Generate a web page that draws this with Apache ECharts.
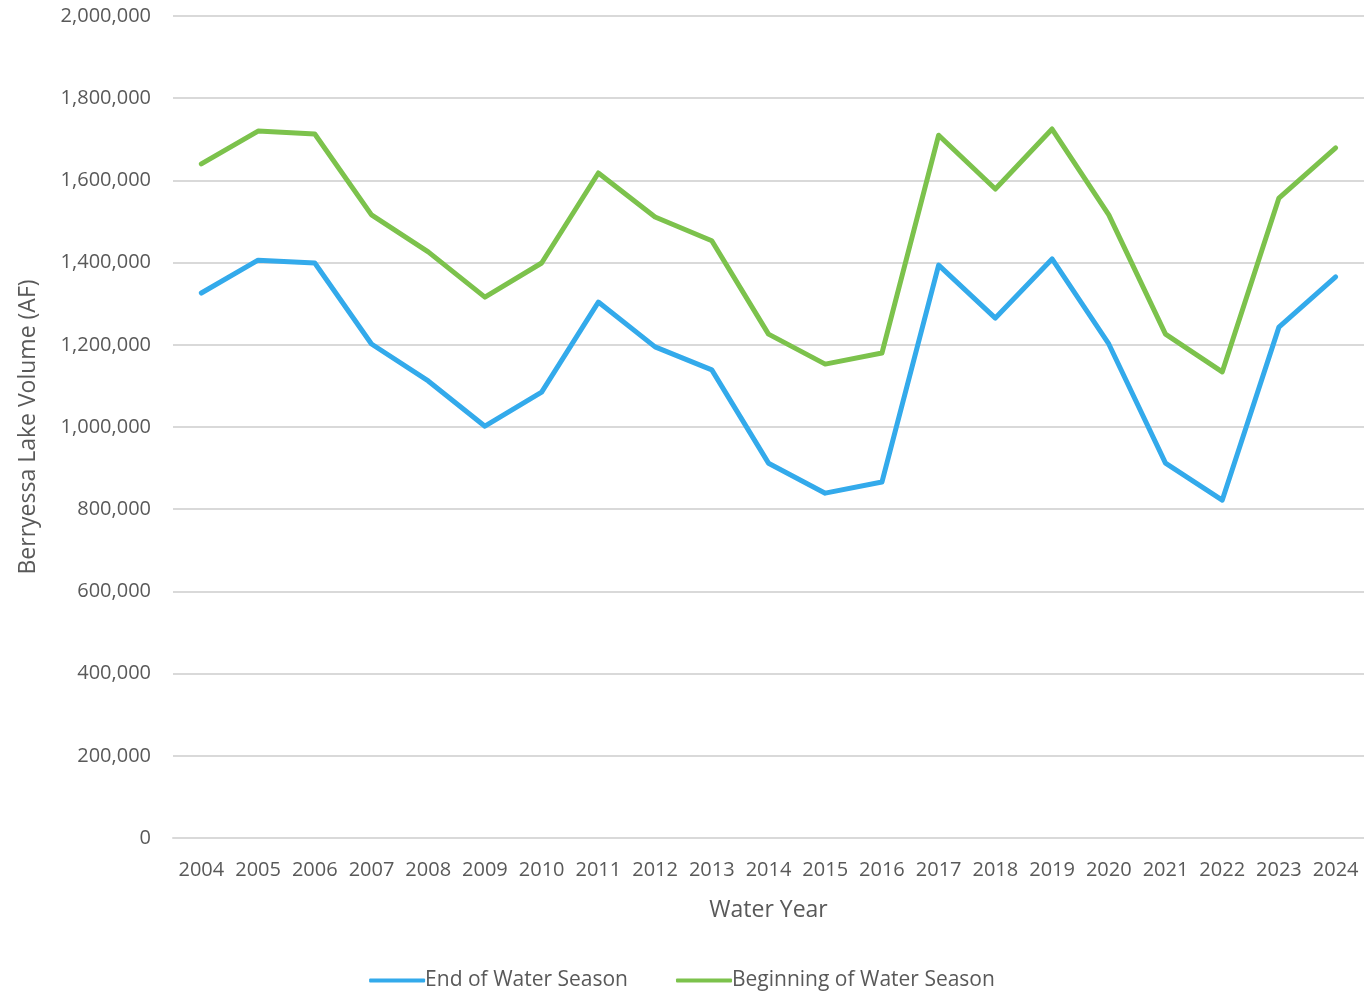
<!DOCTYPE html>
<html>
<head>
<meta charset="utf-8">
<script src="https://cdn.jsdelivr.net/npm/echarts@6/dist/echarts.min.js"></script>
<style>html,body{margin:0;padding:0;background:#fff}#c{width:1364px;height:993px}</style>
</head>
<body>
<div id="c"></div>
<script>
const years = ['2004','2005','2006','2007','2008','2009','2010','2011','2012','2013','2014','2015','2016','2017','2018','2019','2020','2021','2022','2023','2024'];
const endOfSeason = [1326000,1406000,1399000,1202000,1112000,1002000,1085000,1304000,1195000,1139000,912000,839000,866000,1394000,1265000,1409000,1202000,912000,822000,1243000,1365000];
const beginningOfSeason = [1640000,1720000,1713000,1516000,1426000,1316000,1399000,1618000,1511000,1453000,1226000,1153000,1180000,1710000,1579000,1725000,1516000,1226000,1134000,1557000,1679000];
const seriesNames = ['End of Water Season','Beginning of Water Season'];

const font = "'Open Sans', 'DejaVu Sans', sans-serif";
const chart = echarts.init(document.getElementById('c'));
chart.setOption({
  animation: false,
  textStyle: { fontFamily: font, color: '#595959' },
  grid: { left: 173, right: 0, top: 16, bottom: 155 },
  legend: {
    bottom: -3, left: 'center',
    itemWidth: 56, itemHeight: 4, itemGap: 48,
    icon: 'roundRect',
    textStyle: { fontSize: 21, color: '#595959', fontFamily: font, padding: [0,0,0,-5] },
    data: seriesNames
  },
  xAxis: {
    type: 'category', data: years, boundaryGap: true,
    name: 'Water Year', nameLocation: 'middle', nameGap: 61,
    nameTextStyle: { fontSize: 23, color: '#595959' },
    axisLine: { show: true, lineStyle: { color: '#d9d9d9', width: 2 } },
    axisTick: { show: false },
    axisLabel: { fontSize: 20, color: '#595959', margin: 22, interval: 0 }
  },
  yAxis: {
    type: 'value', min: 0, max: 2000000, interval: 200000,
    name: 'Berryessa Lake Volume (AF)', nameLocation: 'middle', nameGap: 133,
    nameTextStyle: { fontSize: 23, color: '#595959' },
    axisLine: { show: false }, axisTick: { show: false },
    axisLabel: { fontSize: 20, color: '#595959', margin: 22,
      formatter: v => v.toLocaleString('en-US') },
    splitLine: { lineStyle: { color: '#d9d9d9', width: 2 } }
  },
  series: [
    { name: seriesNames[0], type: 'line', data: endOfSeason, showSymbol: false,
      lineStyle: { color: '#33aaeb', width: 5, cap: 'round', join: 'round' }, itemStyle: { color: '#33aaeb' } },
    { name: seriesNames[1], type: 'line', data: beginningOfSeason, showSymbol: false,
      lineStyle: { color: '#7cc24c', width: 5, cap: 'round', join: 'round' }, itemStyle: { color: '#7cc24c' } }
  ]
});
</script>
</body>
</html>
